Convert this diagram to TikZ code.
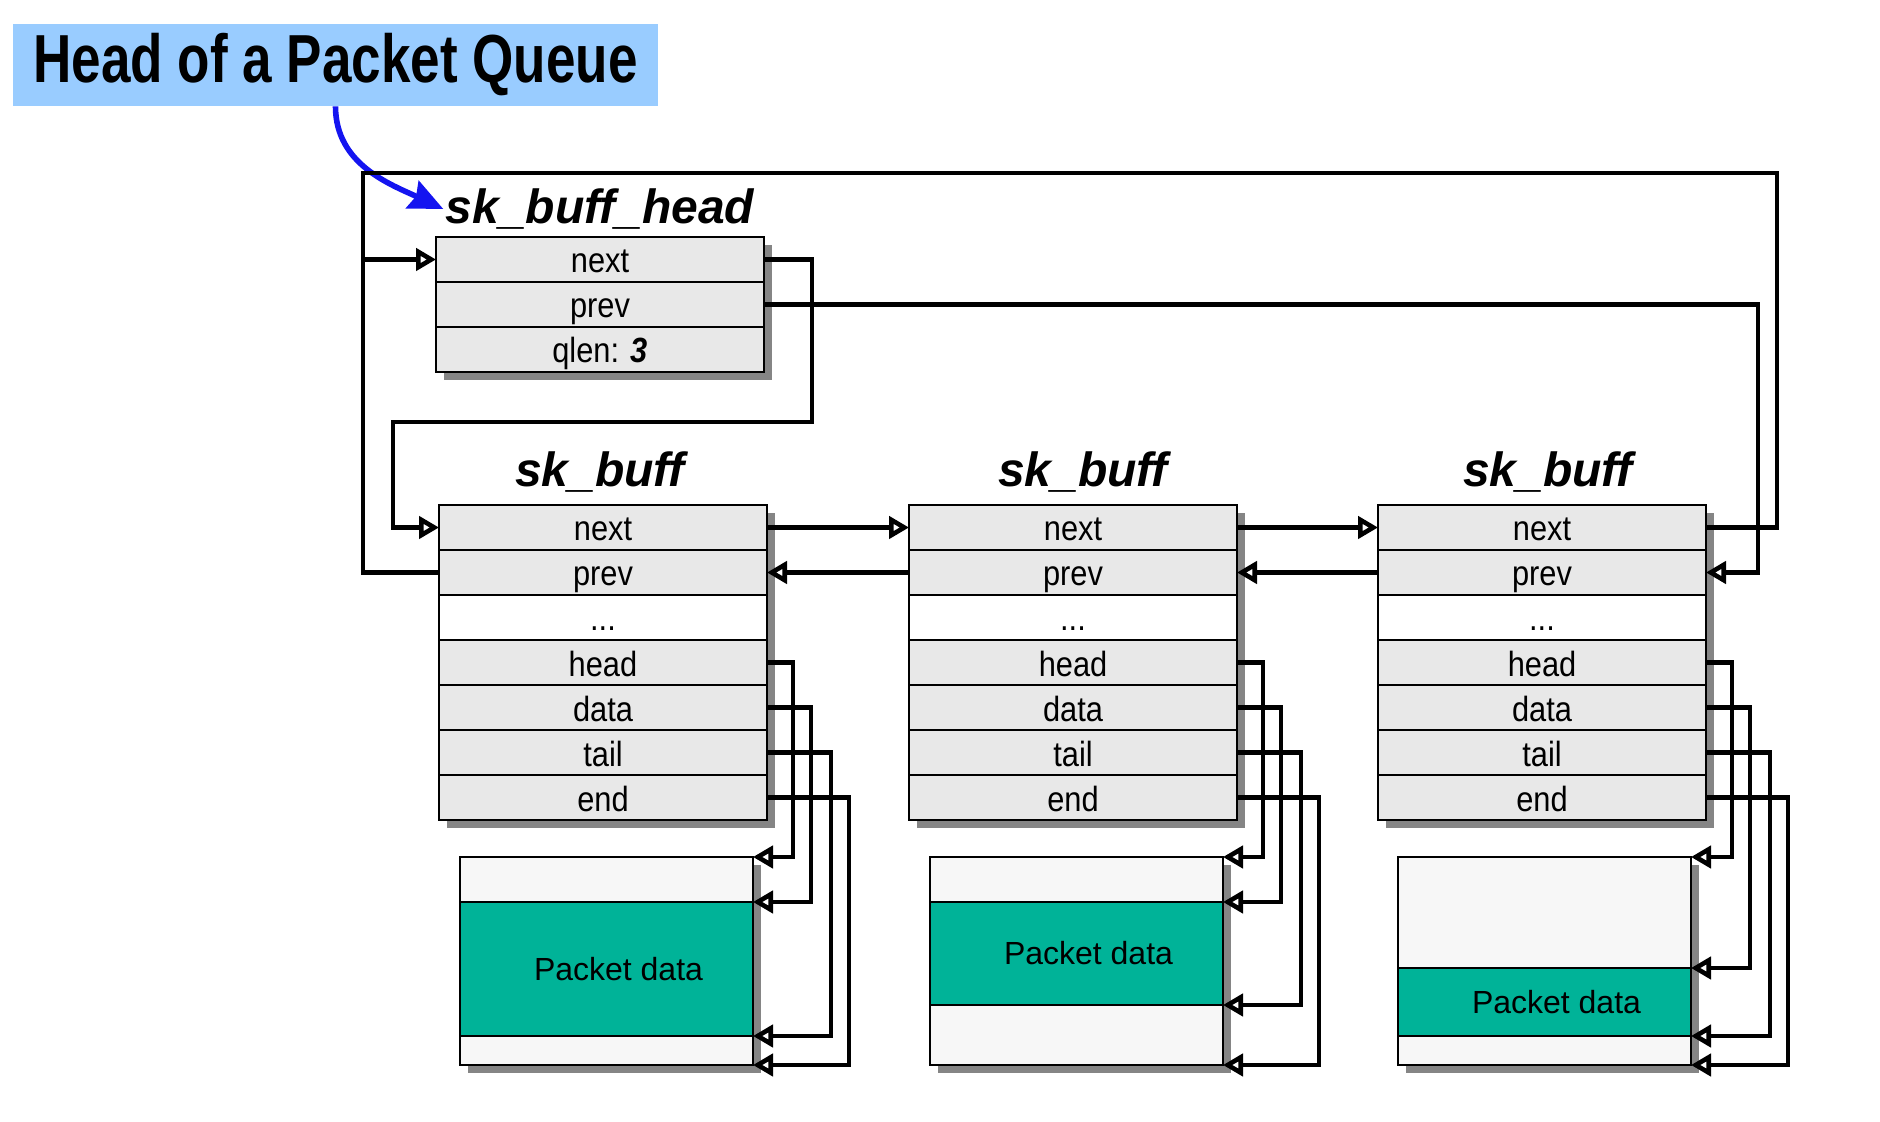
\documentclass[tikz,border=0pt]{standalone}
\usepackage{fontspec}
\setmainfont{Liberation Sans}
\newfontfamily\fieldfont{Liberation Sans}[FakeStretch=0.88]
\newfontfamily\titlefont{Liberation Sans}[FakeStretch=0.78]
\usetikzlibrary{arrows.meta,positioning}

\definecolor{rowgray}{HTML}{E8E8E8}
\definecolor{bufwhite}{HTML}{F7F7F7}
\definecolor{pktgreen}{HTML}{00B398}
\definecolor{shadowgray}{HTML}{858585}
\definecolor{titleblue}{HTML}{99CCFF}
\definecolor{calloutblue}{HTML}{1414F0}

\tikzset{
  field/.style={draw, fill=rowgray, line width=1.1pt, minimum width=164pt, minimum height=22.5pt,
    inner sep=0pt, outer sep=0pt, text height=14.5pt, text depth=1pt,
    font=\fieldfont\fontsize{17.5}{20}\selectfont},
  blankfield/.style={field, fill=white},
  bufpart/.style={draw, fill=bufwhite, line width=1.1pt, minimum width=146.5pt, inner sep=0pt,
    outer sep=0pt},
  pktpart/.style={bufpart, fill=pktgreen,
    label={[xshift=6pt, font=\fontsize{16}{18}\selectfont]center:Packet data}},
  structname/.style={inner sep=1pt, font=\fontsize{24}{28}\selectfont\bfseries\itshape},
  ptr/.style={line width=2.3pt, -{Triangle[open, length=10pt, width=11pt]}},
  wire/.style={line width=2.3pt},
  callout/.style={line width=2.8pt, color=calloutblue, -{Stealth[length=17pt, width=15pt, inset=2pt]}},
}

\begin{document}
\begin{tikzpicture}[x=0.5pt, y=-0.5pt]
\useasboundingbox (0,0) rectangle (1880,1122);

\node[fill=titleblue, minimum width=322.5pt, minimum height=41pt, inner sep=0pt,
  font=\titlefont\fontsize{34}{36}\selectfont\bfseries] (title) at (335.5,65) {Head of a Packet Queue};

% queue head
\fill[shadowgray] (444,245) rectangle (772,380);
\node[structname] (hname) at (600,209) {sk\_buff\_head};
\node[field] (h-next) at (600,259.5) {next};
\node[field, below=0pt of h-next] (h-prev) {prev};
\node[field, below=0pt of h-prev] (h-qlen) {qlen: \textbf{\textit{3}}};

\draw[callout] (title.south) to[out=-90, in=155] (hname.west);

% the three buffers
\foreach \i/\x/\lx in {1/603/600, 2/1073/1083, 3/1542/1548} {
  \fill[shadowgray] (\x-156,513) rectangle (\x+172,828);
  \node[structname] at (\lx,472) {sk\_buff};
  \node[field] (s\i-next) at (\x,527.5) {next};
  \node[field, below=0pt of s\i-next] (s\i-prev) {prev};
  \node[blankfield, below=0pt of s\i-prev] (s\i-dots) {...};
  \node[field, below=0pt of s\i-dots] (s\i-head) {head};
  \node[field, below=0pt of s\i-head] (s\i-data) {data};
  \node[field, below=0pt of s\i-data] (s\i-tail) {tail};
  \node[field, below=0pt of s\i-tail] (s\i-end) {end};
}

\foreach \i/\x/\ta/\pb/\bc in {1/606.5/22.5/67/14.5, 2/1076.5/22.5/51.5/30, 3/1544.5/55.5/34/14.5} {
  \fill[shadowgray] (\x-138.5,865) rectangle (\x+154.5,1073);
  \node[bufpart, minimum height=\ta pt, anchor=north] (d\i-top) at (\x,857) {};
  \node[pktpart, minimum height=\pb pt, below=0pt of d\i-top] (d\i-pkt) {};
  \node[bufpart, minimum height=\bc pt, below=0pt of d\i-pkt] (d\i-bot) {};
}

\foreach \i in {1,2,3} {
  \draw[ptr] (s\i-head.east) -- ++(26,0) |- (d\i-top.north east);
  \draw[ptr] (s\i-data.east) -- ++(44,0) |- (d\i-pkt.north east);
  \draw[ptr] (s\i-tail.east) -- ++(64,0) |- (d\i-pkt.south east);
  \draw[ptr] (s\i-end.east) -- ++(82,0) |- (d\i-bot.south east);
}

% list links
\draw[ptr] (s1-next.east) -- (s2-next.west);
\draw[ptr] (s2-next.east) -- (s3-next.west);
\draw[ptr] (s2-prev.west) -- (s1-prev.east);
\draw[ptr] (s3-prev.west) -- (s2-prev.east);
\draw[ptr] (h-next.east) -- ++(48,0) |- (393,422) |- (s1-next.west);
\draw[ptr] (h-prev.east) -- ++(994,0) |- (s3-prev.east);
\draw[ptr] (s3-next.east) -- ++(71,0) |- (363,173) |- (h-next.west);
\draw[wire] (s1-prev.west) -| (363,259.5);
\end{tikzpicture}
\end{document}
